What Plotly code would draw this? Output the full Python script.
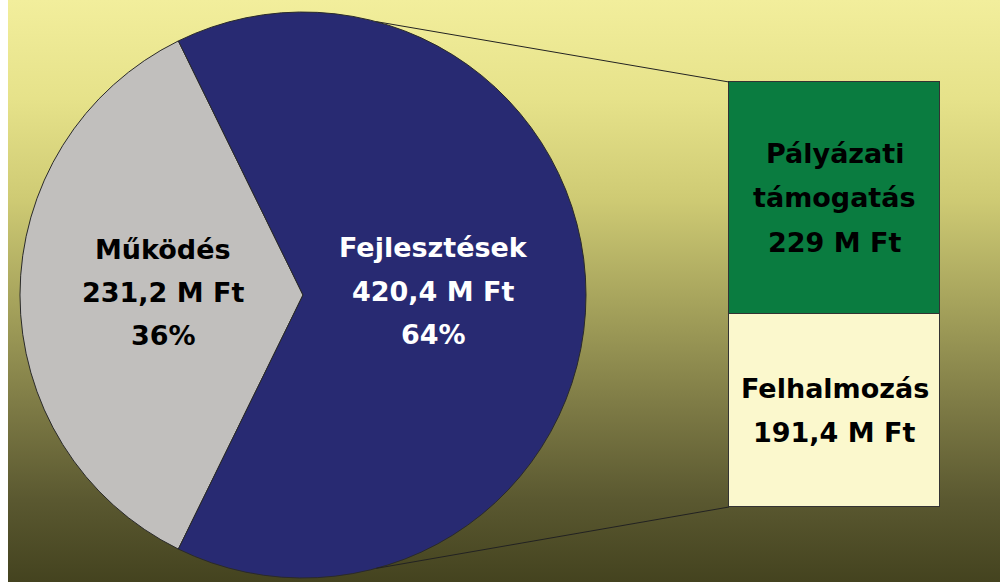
import math
import plotly.graph_objects as go

# ---- data ----
pie_labels = ["Működés", "Fejlesztések"]
pie_values = [231.2, 420.4]
pie_pct = ["36%", "64%"]
pie_colors = ["#c1bfbd", "#282a72"]
pie_text_colors = ["#000000", "#ffffff"]

bar_labels = ["Felhalmozás", "Pályázati támogatás"]
bar_values = [191.4, 229]
bar_colors = ["#fbf8cd", "#0a7c40"]

W, H = 1000, 582

def fmt(v):
    return f"{v:g}".replace(".", ",") + " M Ft"

# ---- layout geometry (pixels) ----
cx, cy, r = 303, 295, 283
bar_x0, bar_x1 = 729, 940
bar_top, bar_bot = 82, 507

fig = go.Figure()

# background gradient
grad = [
    [0.0, "#f2ee9c"],
    [0.17, "#e6e28a"],
    [0.34, "#cfcb74"],
    [0.52, "#a6a35c"],
    [0.70, "#7d7a45"],
    [0.86, "#5a5830"],
    [1.0, "#44431f"],
]
fig.add_trace(go.Scatter(
    x=[8, W, W, 8, 8], y=[0, 0, H, H, 0],
    fill="toself", mode="none",
    fillgradient=dict(type="vertical", colorscale=grad, start=0, stop=H),
    hoverinfo="skip", showlegend=False, xaxis="x", yaxis="y",
))

# pie
fig.add_trace(go.Pie(
    labels=pie_labels, values=pie_values, sort=False,
    direction="clockwise",
    rotation=270 - 0.5 * 360 * pie_values[0] / sum(pie_values),
    marker=dict(colors=pie_colors, line=dict(color="#2a2a2a", width=1)),
    textinfo="none", showlegend=False,
    domain=dict(x=[(cx - r) / W, (cx + r) / W],
                y=[(H - cy - r) / H, (H - cy + r) / H]),
))

# stacked bar (pixel-mapped axes)
pad = 8
bw = bar_x1 - bar_x0
tot = sum(bar_values)
upp = tot / (bar_bot - bar_top)
for lab, val, col in zip(bar_labels, bar_values, bar_colors):
    fig.add_trace(go.Bar(
        x=[0], y=[val], width=[1], name=lab,
        marker=dict(color=col, line=dict(color="#333333", width=1)),
        xaxis="x2", yaxis="y2", showlegend=False, hoverinfo="y",
    ))

# connector lines
ang = math.radians(15)
top_pt = (cx + r * math.sin(ang), cy - r * math.cos(ang))
bot_pt = (cx + r * math.sin(ang), cy + r * math.cos(ang))
for (px, py), by in [(top_pt, bar_top), (bot_pt, bar_bot)]:
    fig.add_shape(type="line", xref="x", yref="y", x0=px, y0=py, x1=bar_x0, y1=by,
                  line=dict(color="#222222", width=1), layer="above")

font = dict(family="DejaVu Sans", size=27, weight="bold")

def lines_at(x, ys, texts, color):
    for y, t in zip(ys, texts):
        fig.add_annotation(x=x, y=y, xref="x", yref="y", text=t, showarrow=False,
                           xanchor="center", yanchor="middle",
                           font=dict(color=color, **font))

lines_at(163, [249, 292, 335], [pie_labels[0], fmt(pie_values[0]), pie_pct[0]], pie_text_colors[0])
lines_at(433, [247, 291, 334], [pie_labels[1], fmt(pie_values[1]), pie_pct[1]], pie_text_colors[1])
bar_mid = (bar_x0 + bar_x1) / 2
pal = bar_labels[1].split(" ")
lines_at(bar_mid, [153, 197, 242], pal + [fmt(bar_values[1])], "#000000")
lines_at(bar_mid, [388, 432], [bar_labels[0], fmt(bar_values[0])], "#000000")

fig.update_layout(
    width=W, height=H, margin=dict(l=0, r=0, t=0, b=0),
    paper_bgcolor="#ffffff", plot_bgcolor="rgba(0,0,0,0)",
    barmode="stack", bargap=0,
    xaxis=dict(range=[0, W], domain=[0, 1], visible=False, fixedrange=True),
    yaxis=dict(range=[H, 0], domain=[0, 1], visible=False, fixedrange=True),
    xaxis2=dict(domain=[(bar_x0 - pad) / W, (bar_x1 + pad) / W],
                range=[-0.5 - pad / bw, 0.5 + pad / bw], visible=False,
                anchor="y2", fixedrange=True),
    yaxis2=dict(domain=[(H - bar_bot - pad) / H, (H - bar_top + pad) / H],
                range=[-pad * upp, tot + pad * upp], visible=False,
                anchor="x2", fixedrange=True),
)

fig.write_html("out.html", config={"displayModeBar": False},
               post_script="document.body.style.margin='0';document.body.style.overflow='hidden';")
